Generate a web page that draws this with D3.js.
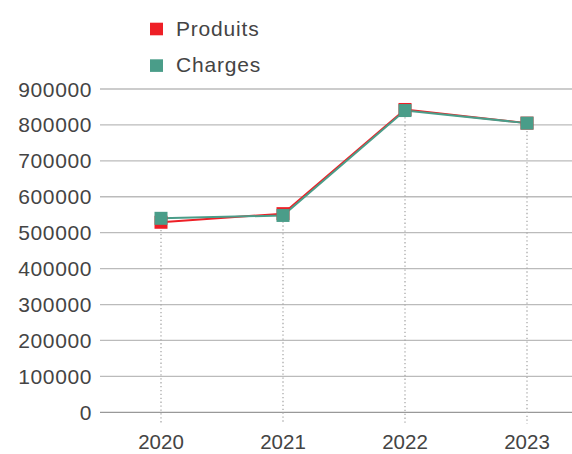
<!DOCTYPE html>
<html>
<head>
<meta charset="utf-8">
<script src="https://cdn.jsdelivr.net/npm/d3@7"></script>
<style>
  body { margin: 0; background: #fff; }
  svg text { font-family: "Liberation Sans", Arial, sans-serif; fill: #444; }
</style>
</head>
<body>
<div id="chart"></div>
<script>
let years = ["2020", "2021", "2022", "2023"]
let produits = [529000, 553000, 843000, 805000]
let charges = [540000, 548000, 840000, 805000]
let yTicks = [0, 100000, 200000, 300000, 400000, 500000, 600000, 700000, 800000, 900000]
let seriesNames = ["Produits", "Charges"]
let seriesColors = ["#ee1f26", "#4a9d89"]

let totalWidth = 572
let totalHeight = 454

let svg = d3.select("#chart").append("svg")
    .attr("width", totalWidth)
    .attr("height", totalHeight)

// scales
let xScale = d3.scaleBand()
    .domain(years)
    .range([100, 588])

let yScale = d3.scaleLinear()
    .domain([0, 900000])
    .range([412.3, 89])

// horizontal grid + y labels
svg.append("g")
    .selectAll("line")
    .data(yTicks)
    .enter()
    .append("line")
    .attr("x1", 100)
    .attr("x2", totalWidth)
    .attr("y1", d => yScale(d))
    .attr("y2", d => yScale(d))
    .attr("stroke", d => d === 0 ? "#999" : "#bbb")
    .attr("stroke-width", 1.3)

svg.append("g")
    .selectAll("text")
    .data(yTicks)
    .enter()
    .append("text")
    .attr("x", 92)
    .attr("y", d => yScale(d))
    .attr("dy", "0.36em")
    .attr("text-anchor", "end")
    .style("font-size", "21px")
    .style("letter-spacing", "0.6px")
    .text(d => d)

// dotted drop lines
let series = [produits, charges]
svg.append("g")
    .selectAll("line")
    .data(years)
    .enter()
    .append("line")
    .attr("x1", d => xScale(d) + xScale.bandwidth() / 2)
    .attr("x2", d => xScale(d) + xScale.bandwidth() / 2)
    .attr("y1", (d, i) => yScale(Math.max(produits[i], charges[i])))
    .attr("y2", 424)
    .attr("stroke", "#aaa")
    .attr("stroke-width", 1.3)
    .attr("stroke-dasharray", "1.3,2.6")

// x labels
svg.append("g")
    .selectAll("text")
    .data(years)
    .enter()
    .append("text")
    .attr("x", d => xScale(d) + xScale.bandwidth() / 2)
    .attr("y", 449)
    .attr("text-anchor", "middle")
    .style("font-size", "20.5px")
    .text(d => d)

// lines and markers
let line = d3.line()
    .x((d, i) => xScale(years[i]) + xScale.bandwidth() / 2)
    .y(d => yScale(d))

series.forEach((s, k) => {
    svg.append("path")
        .datum(s)
        .attr("fill", "none")
        .attr("stroke", seriesColors[k])
        .attr("stroke-width", 2)
        .attr("d", line)
})

series.forEach((s, k) => {
    svg.append("g")
        .selectAll("rect")
        .data(s)
        .enter()
        .append("rect")
        .attr("x", (d, i) => xScale(years[i]) + xScale.bandwidth() / 2 - 6.5)
        .attr("y", d => yScale(d) - 6.5)
        .attr("width", 13)
        .attr("height", 13)
        .attr("fill", seriesColors[k])
})

// legend
let legend = svg.append("g")
    .selectAll("g")
    .data(seriesNames)
    .enter()
    .append("g")
    .attr("transform", (d, i) => "translate(150," + (22.7 + i * 36.6) + ")")

legend.append("rect")
    .attr("width", 13)
    .attr("height", 12.6)
    .attr("fill", (d, i) => seriesColors[i])

legend.append("text")
    .attr("x", 26)
    .attr("y", 13)
    .style("font-size", "21px")
    .style("letter-spacing", "0.8px")
    .text(d => d)
</script>
</body>
</html>
